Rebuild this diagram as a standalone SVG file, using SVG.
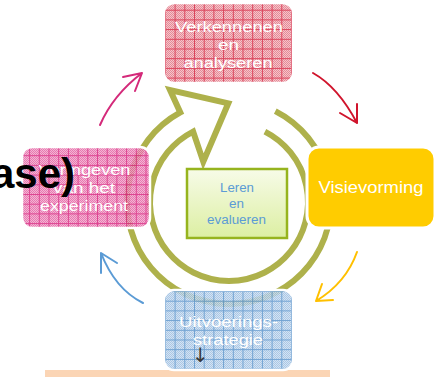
<svg xmlns="http://www.w3.org/2000/svg" width="438" height="377" viewBox="0 0 438 377">
<defs>
<style>
.lbl{font-family:"Liberation Sans",Arial,sans-serif;font-size:15.5px;fill:#fff;text-anchor:middle}
.ctr{font-family:"Liberation Sans",Arial,sans-serif;font-size:12.5px;fill:#5B9BD5;text-anchor:middle}
.ring{fill:none;stroke:#AEB14B;stroke-width:6;stroke-linejoin:miter}
.con{fill:none;stroke-width:2;stroke-linecap:round;stroke-linejoin:round}
.edge{fill:none;stroke:#fff;stroke-width:2.5}
</style>
<pattern id="dotR" width="2" height="2" patternUnits="userSpaceOnUse"><rect width="2" height="2" fill="#F4BCC4"/><rect width="1" height="1" fill="#E27A88"/><rect x="1" y="1" width="1" height="1" fill="#E27A88"/></pattern>
<pattern id="gridR" width="9.7" height="9.7" patternUnits="userSpaceOnUse"><path d="M0 0.5H9.7M0.5 0V9.7" stroke="#D62A45" stroke-width="1"/></pattern>
<pattern id="dotP" width="2" height="2" patternUnits="userSpaceOnUse"><rect width="2" height="2" fill="#F4A6CC"/><rect width="1" height="1" fill="#E264A4"/><rect x="1" y="1" width="1" height="1" fill="#E264A4"/></pattern>
<pattern id="gridP" width="9.7" height="9.7" patternUnits="userSpaceOnUse"><path d="M0 0.5H9.7M0.5 0V9.7" stroke="#D8247F" stroke-width="1"/></pattern>
<pattern id="dotB" width="2" height="2" patternUnits="userSpaceOnUse"><rect width="2" height="2" fill="#CFE0F2"/><rect width="1" height="1" fill="#9FC0E2"/><rect x="1" y="1" width="1" height="1" fill="#9FC0E2"/></pattern>
<pattern id="gridB" width="9.7" height="9.7" patternUnits="userSpaceOnUse"><path d="M0 0.5H9.7M0.5 0V9.7" stroke="#5C95CC" stroke-width="1"/></pattern>
<linearGradient id="gG" x1="0" y1="0" x2="0" y2="1"><stop offset="0" stop-color="#F7FBE8"/><stop offset="1" stop-color="#DCEFA2"/></linearGradient>
</defs>

<rect x="45" y="370" width="285" height="7" fill="#FBD5B5"/>

<g id="cycle-arrow">
<path class="ring" d="M275.3,111.1 A102,102 0 1 1 180.3,112.4 L170,90 L228.3,103.3 L203.3,161.7 L193.1,131.6 A79,79 0 1 0 264.9,131.6"/>
</g>

<g id="node-center">
<rect x="187" y="169" width="100" height="69" fill="url(#gG)" stroke="#96B41E" stroke-width="2.5"/>
<text class="ctr" x="237" y="192" textLength="34" lengthAdjust="spacingAndGlyphs">Leren</text>
<text class="ctr" x="236.5" y="208" textLength="15" lengthAdjust="spacingAndGlyphs">en</text>
<text class="ctr" x="236.5" y="224" textLength="59" lengthAdjust="spacingAndGlyphs">evalueren</text>
</g>

<g id="node-top">
<g opacity="0.88">
<rect x="164" y="3" width="129" height="80" rx="10" fill="url(#dotR)"/>
<rect x="164" y="3" width="129" height="80" rx="10" fill="url(#gridR)"/>
</g>
<rect class="edge" x="164" y="3" width="129" height="80" rx="10"/>
<text class="lbl" x="229" y="32" textLength="108" lengthAdjust="spacingAndGlyphs">Verkennenen</text>
<text class="lbl" x="228.5" y="50" textLength="21" lengthAdjust="spacingAndGlyphs">en</text>
<text class="lbl" x="228" y="68" textLength="89" lengthAdjust="spacingAndGlyphs">analyseren</text>
</g>

<g id="node-right">
<rect x="307" y="147" width="128" height="81" rx="12" fill="#FFCC00" stroke="#fff" stroke-width="3"/>
<text class="lbl" x="371" y="193" style="font-size:16.5px" textLength="105" lengthAdjust="spacingAndGlyphs">Visievorming</text>
</g>

<g id="node-bottom">
<g opacity="0.88">
<rect x="164" y="290" width="129" height="80" rx="10" fill="url(#dotB)"/>
<rect x="164" y="290" width="129" height="80" rx="10" fill="url(#gridB)"/>
</g>
<rect class="edge" x="164" y="290" width="129" height="80" rx="10"/>
<text class="lbl" x="228.5" y="327" textLength="99" lengthAdjust="spacingAndGlyphs">Uitvoerings-</text>
<text class="lbl" x="228" y="345" textLength="70" lengthAdjust="spacingAndGlyphs">strategie</text>
<text x="200.5" y="362" font-family="DejaVu Sans, sans-serif" font-size="20" fill="#3A3A3A" text-anchor="middle">↓</text>
</g>

<g id="node-left">
<g opacity="0.85">
<rect x="22" y="147" width="128" height="81" rx="10" fill="url(#dotP)"/>
<rect x="22" y="147" width="128" height="81" rx="10" fill="url(#gridP)"/>
</g>
<rect class="edge" x="22" y="147" width="128" height="81" rx="10"/>
<text class="lbl" x="84.5" y="175" textLength="92" lengthAdjust="spacingAndGlyphs">Vormgeven</text>
<text class="lbl" x="84" y="193" textLength="62" lengthAdjust="spacingAndGlyphs">van het</text>
<text class="lbl" x="84" y="211" textLength="88" lengthAdjust="spacingAndGlyphs">experiment</text>
</g>

<g id="connectors">
<path class="con" stroke="#D42A7A" d="M100,125 Q113,95 142,73 M123,77 L142,73 L135,91"/>
<path class="con" stroke="#D0142C" d="M313,73 Q338,87 357,123 M340,113 L357,123 L357,104"/>
<path class="con" stroke="#FFC000" d="M357,252 Q346,283 316,301 M322,284 L316,301 L333,300"/>
<path class="con" stroke="#5B9BD5" d="M143,303 Q115,289 101,253 M101,273 L101,253 L117,263"/>
</g>

<text x="75" y="188" font-family="Liberation Sans, Arial, sans-serif" font-weight="bold" font-size="42" fill="#000" text-anchor="end">ase)</text>
</svg>
